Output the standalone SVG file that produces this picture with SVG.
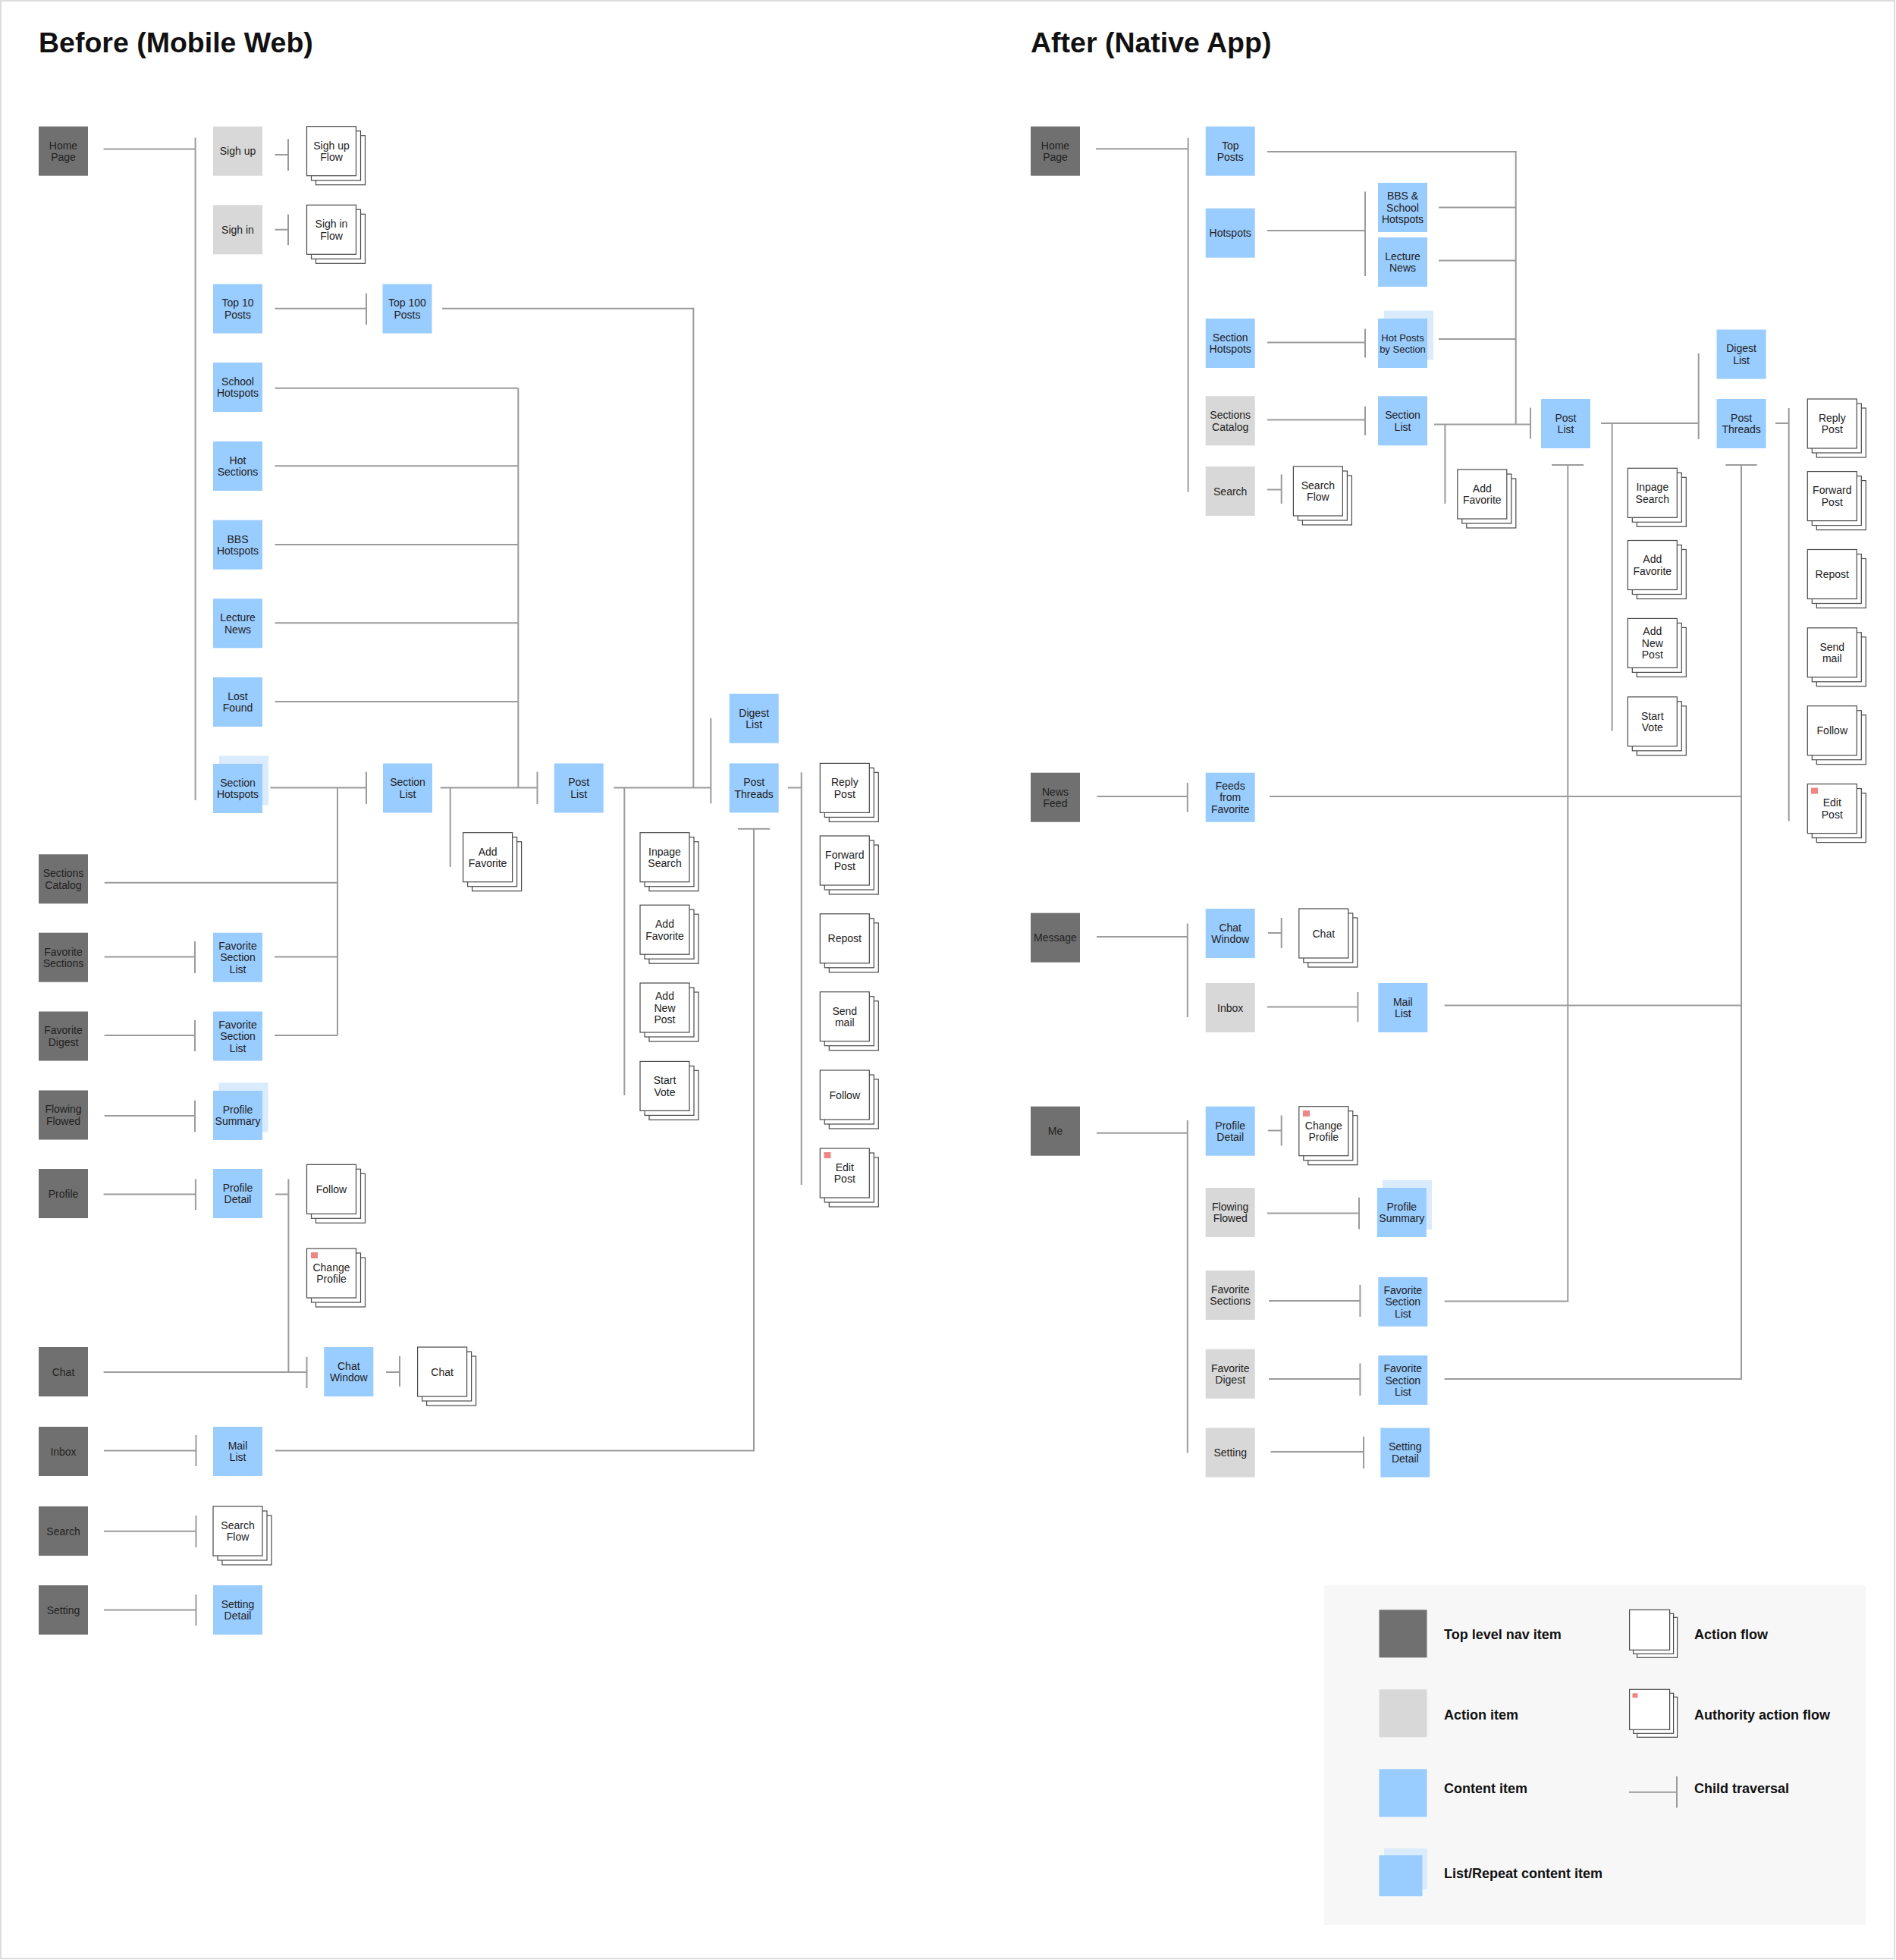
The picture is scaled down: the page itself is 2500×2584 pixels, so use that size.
<svg xmlns="http://www.w3.org/2000/svg" xmlns:xlink="http://www.w3.org/1999/xlink" width="2500" height="2584" viewBox="0 0 2500 2584">
<style>
.nav{fill:#707070}
.act{fill:#d8d8d8}
.con{fill:#99ccff}
.lst{fill:#d9ebfd}
.pg{fill:#fff;stroke:#4a4a4a;stroke-width:1.2}
.t{font-family:"Liberation Sans",Arial,Helvetica,sans-serif;font-size:14px;fill:#222;text-anchor:middle}
.sm{font-size:13px}
.c{fill:none;stroke:#9b9b9b;stroke-width:2}
.title{font-family:"Liberation Sans",Arial,Helvetica,sans-serif;font-size:37.5px;font-weight:bold;fill:#111}
.lg{font-family:"Liberation Sans",Arial,Helvetica,sans-serif;font-size:18px;font-weight:bold;fill:#111}
</style>
<defs>
<g id="stk"><rect class="pg" x="12" y="12" width="65" height="65"/><rect class="pg" x="6" y="6" width="65" height="65"/><rect class="pg" x="0" y="0" width="65" height="65"/></g>
<rect id="au" width="9" height="8" fill="#f08585"/>
<g id="stkS"><rect class="pg" x="10" y="10" width="53" height="53"/><rect class="pg" x="5" y="5" width="53" height="53"/><rect class="pg" x="0" y="0" width="53" height="53"/></g>
</defs>
<rect x="0" y="0" width="2500" height="2584" fill="#fff"/>
<rect x="1" y="1" width="2497" height="2581" fill="none" stroke="#dcdcdc" stroke-width="2"/>
<text class="title" x="51" y="69">Before (Mobile Web)</text>
<text class="title" x="1359" y="69">After (Native App)</text>

<g id="connectors">
<path class="c" d="M136.6 196.5H257.6M257.6 181.7V1055M362.5 204H380M380 183.3V225M362.5 302.7H380M380 282.7V323.3M362.5 406.7H483M483 386.7V428.3M583 406.7H914.3V1038.5M362.5 511.7H683.3M362.5 614.3H683.3M362.5 718H683.3M362.5 821.3H683.3M362.5 925H683.3M683.3 511.7V1038.5M356.5 1038.5H483M483 1017.6V1060M445 1038.5V1365M137.7 1163.7H445M137.7 1261.6H257M257 1241V1283M362 1261.6H445M137.7 1365H257M257 1345V1386M362 1365H445M137.7 1471H257M257 1450.8V1492.3M136.6 1574.5H257.9M257.9 1554.5V1595M363 1574.5H380.4M380.4 1554.5V1809M136.6 1809H404.5M404.5 1789V1830M509 1809H527M527 1788V1828M137 1912.5H258.5M258.5 1892V1933M363 1912.5H994V1092.7M973 1092.7H1015M137 2018.8H258.5M258.5 1998V2040M137 2122.6H258.5M258.5 2102V2143M580.7 1038.5H708.5M708.5 1017.6V1060M593.7 1038.5V1143M809.3 1038.5H937.3M937.3 946.7V1059.3M823.3 1038.5V1444M1039 1038.5H1056.7M1056.7 1018.3V1562"/>
<path class="c" d="M1445 196.2H1566.6M1566.6 181.7V648.6M1671 200H1998.7V559.4M1671 304H1800M1800 252.5V364M1897 273.5H1998.7M1897 343.5H1998.7M1671 451.5H1800M1800 433.5V471.4M1897 446.9H1998.7M1671 553.6H1800M1800 535.7V574M1891 559.4H2018M2018 537.6V578.5M1905.4 559.4V664M1671 645.5H1689.7M1689.7 625.6V664M2111 558H2239.7M2239.7 466V579M2125.6 558V963.7M2046 613H2088M2067.3 613V1715.6H1904.6M2341 558H2358.7M2358.7 538V1082.4M2275.3 613H2316.7M2296 613V1818H1904.6M1446.4 1050H1565.8M1565.8 1032V1070.6M1674 1050H2296M1446 1235H1565.8M1565.8 1217.5V1341M1671.8 1230H1689.7M1689.7 1210V1250M1671 1327.5H1790.4M1790.4 1308V1347.5M1904.6 1325.6H2296M1446 1493.7H1565.8M1565.8 1477V1915.6M1671.8 1490.6H1689.7M1689.7 1470.6V1510.6M1671 1599.4H1792M1792 1578.7V1620.6M1673 1715H1793.4M1793.4 1693.7V1736M1673 1818H1793.4M1793.4 1797.5V1840M1675.5 1914H1798M1798 1894V1936"/>
</g>

<!-- LEFT: top-level nav -->
<g id="l-home"><rect class="nav" x="51" y="166.7" width="65" height="65"/><text class="t" x="83.5"><tspan x="83.5" y="196.5">Home</tspan><tspan x="83.5" y="212">Page</tspan></text></g>
<g id="l-sections-catalog"><rect class="nav" x="51" y="1126.3" width="65" height="65"/><text class="t"><tspan x="83.5" y="1156">Sections</tspan><tspan x="83.5" y="1171.5">Catalog</tspan></text></g>
<g id="l-favorite-sections"><rect class="nav" x="51" y="1229.7" width="65" height="65"/><text class="t"><tspan x="83.5" y="1259.5">Favorite</tspan><tspan x="83.5" y="1275">Sections</tspan></text></g>
<g id="l-favorite-digest"><rect class="nav" x="51" y="1333.5" width="65" height="65"/><text class="t"><tspan x="83.5" y="1363.3">Favorite</tspan><tspan x="83.5" y="1378.8">Digest</tspan></text></g>
<g id="l-flowing-flowed"><rect class="nav" x="51" y="1437.5" width="65" height="65"/><text class="t"><tspan x="83.5" y="1467.3">Flowing</tspan><tspan x="83.5" y="1482.8">Flowed</tspan></text></g>
<g id="l-profile"><rect class="nav" x="51" y="1541" width="65" height="65"/><text class="t" x="83.5" y="1578.5">Profile</text></g>
<g id="l-chat"><rect class="nav" x="51" y="1776" width="65" height="65"/><text class="t" x="83.5" y="1813.5">Chat</text></g>
<g id="l-inbox"><rect class="nav" x="51" y="1881" width="65" height="65"/><text class="t" x="83.5" y="1918.5">Inbox</text></g>
<g id="l-search"><rect class="nav" x="51" y="1986" width="65" height="65"/><text class="t" x="83.5" y="2023.5">Search</text></g>
<g id="l-setting"><rect class="nav" x="51" y="2090" width="65" height="65"/><text class="t" x="83.5" y="2127.5">Setting</text></g>

<!-- LEFT: column 2 -->
<g id="l-sign-up"><rect class="act" x="281" y="166.7" width="65" height="65"/><text class="t" x="313.5" y="204.2">Sigh up</text></g>
<g id="l-sign-in"><rect class="act" x="281" y="270.3" width="65" height="65"/><text class="t" x="313.5" y="307.8">Sigh in</text></g>
<g id="l-top10"><rect class="con" x="281" y="374.5" width="65" height="65"/><text class="t"><tspan x="313.5" y="404.3">Top 10</tspan><tspan x="313.5" y="419.8">Posts</tspan></text></g>
<g id="l-school-hotspots"><rect class="con" x="281" y="478" width="65" height="65"/><text class="t"><tspan x="313.5" y="507.8">School</tspan><tspan x="313.5" y="523.3">Hotspots</tspan></text></g>
<g id="l-hot-sections"><rect class="con" x="281" y="582" width="65" height="65"/><text class="t"><tspan x="313.5" y="611.8">Hot</tspan><tspan x="313.5" y="627.3">Sections</tspan></text></g>
<g id="l-bbs-hotspots"><rect class="con" x="281" y="685.7" width="65" height="65"/><text class="t"><tspan x="313.5" y="715.5">BBS</tspan><tspan x="313.5" y="731">Hotspots</tspan></text></g>
<g id="l-lecture-news"><rect class="con" x="281" y="789.3" width="65" height="65"/><text class="t"><tspan x="313.5" y="819">Lecture</tspan><tspan x="313.5" y="834.5">News</tspan></text></g>
<g id="l-lost-found"><rect class="con" x="281" y="893" width="65" height="65"/><text class="t"><tspan x="313.5" y="922.8">Lost</tspan><tspan x="313.5" y="938.3">Found</tspan></text></g>
<g id="l-section-hotspots"><rect class="lst" x="289" y="996.5" width="65" height="65"/><rect class="con" x="281" y="1007" width="65" height="65"/><text class="t"><tspan x="313.5" y="1036.8">Section</tspan><tspan x="313.5" y="1052.3">Hotspots</tspan></text></g>
<g id="l-fav-section-list-1"><rect class="con" x="281" y="1229.7" width="65" height="65"/><text class="t"><tspan x="313.5" y="1251.7">Favorite</tspan><tspan x="313.5" y="1267.2">Section</tspan><tspan x="313.5" y="1282.7">List</tspan></text></g>
<g id="l-fav-section-list-2"><rect class="con" x="281" y="1333.5" width="65" height="65"/><text class="t"><tspan x="313.5" y="1355.5">Favorite</tspan><tspan x="313.5" y="1371">Section</tspan><tspan x="313.5" y="1386.5">List</tspan></text></g>
<g id="l-profile-summary"><rect class="lst" x="288.5" y="1427.5" width="65" height="65"/><rect class="con" x="281" y="1438" width="65" height="65"/><text class="t"><tspan x="313.5" y="1467.8">Profile</tspan><tspan x="313.5" y="1483.3">Summary</tspan></text></g>
<g id="l-profile-detail"><rect class="con" x="281" y="1541" width="65" height="65"/><text class="t"><tspan x="313.5" y="1570.8">Profile</tspan><tspan x="313.5" y="1586.3">Detail</tspan></text></g>
<g id="l-mail-list"><rect class="con" x="281" y="1881" width="65" height="65"/><text class="t"><tspan x="313.5" y="1910.8">Mail</tspan><tspan x="313.5" y="1926.3">List</tspan></text></g>
<g id="l-search-flow"><use xlink:href="#stk" x="281" y="1986"/><text class="t"><tspan x="313.5" y="2015.8">Search</tspan><tspan x="313.5" y="2031.3">Flow</tspan></text></g>
<g id="l-setting-detail"><rect class="con" x="281" y="2090" width="65" height="65"/><text class="t"><tspan x="313.5" y="2119.8">Setting</tspan><tspan x="313.5" y="2135.3">Detail</tspan></text></g>

<!-- LEFT: further columns -->
<g id="l-sign-up-flow"><use xlink:href="#stk" x="404.5" y="166.7"/><text class="t"><tspan x="437" y="196.5">Sigh up</tspan><tspan x="437" y="212">Flow</tspan></text></g>
<g id="l-sign-in-flow"><use xlink:href="#stk" x="404.5" y="270.3"/><text class="t"><tspan x="437" y="300">Sigh in</tspan><tspan x="437" y="315.5">Flow</tspan></text></g>
<g id="l-top100"><rect class="con" x="504.5" y="374.5" width="65" height="65"/><text class="t"><tspan x="537" y="404.3">Top 100</tspan><tspan x="537" y="419.8">Posts</tspan></text></g>
<g id="l-section-list"><rect class="con" x="505" y="1006.5" width="65" height="65"/><text class="t"><tspan x="537.5" y="1036.3">Section</tspan><tspan x="537.5" y="1051.8">List</tspan></text></g>
<g id="l-add-favorite-1"><use xlink:href="#stk" x="610.6" y="1097.7"/><text class="t"><tspan x="643.1" y="1127.5">Add</tspan><tspan x="643.1" y="1143">Favorite</tspan></text></g>
<g id="l-follow-1"><use xlink:href="#stk" x="404.5" y="1535.3"/><text class="t" x="437" y="1572.8">Follow</text></g>
<g id="l-change-profile"><use xlink:href="#stk" x="404.5" y="1646"/><use xlink:href="#au" x="410" y="1651"/><text class="t"><tspan x="437" y="1675.8">Change</tspan><tspan x="437" y="1691.3">Profile</tspan></text></g>
<g id="l-chat-window"><rect class="con" x="427.3" y="1776" width="65" height="65"/><text class="t"><tspan x="459.8" y="1805.8">Chat</tspan><tspan x="459.8" y="1821.3">Window</tspan></text></g>
<g id="l-chat-flow"><use xlink:href="#stk" x="550.6" y="1776"/><text class="t" x="583.1" y="1813.5">Chat</text></g>
<g id="l-post-list"><rect class="con" x="730.7" y="1006.5" width="65" height="65"/><text class="t"><tspan x="763.2" y="1036.3">Post</tspan><tspan x="763.2" y="1051.8">List</tspan></text></g>
<g id="l-inpage-search"><use xlink:href="#stk" x="844" y="1097.7"/><text class="t"><tspan x="876.5" y="1127.5">Inpage</tspan><tspan x="876.5" y="1143">Search</tspan></text></g>
<g id="l-add-favorite-2"><use xlink:href="#stk" x="844" y="1193.2"/><text class="t"><tspan x="876.5" y="1223">Add</tspan><tspan x="876.5" y="1238.5">Favorite</tspan></text></g>
<g id="l-add-new-post"><use xlink:href="#stk" x="844" y="1296"/><text class="t"><tspan x="876.5" y="1318">Add</tspan><tspan x="876.5" y="1333.5">New</tspan><tspan x="876.5" y="1349">Post</tspan></text></g>
<g id="l-start-vote"><use xlink:href="#stk" x="844" y="1399.4"/><text class="t"><tspan x="876.5" y="1429.2">Start</tspan><tspan x="876.5" y="1444.7">Vote</tspan></text></g>
<g id="l-digest-list"><rect class="con" x="961.7" y="914.7" width="65" height="65"/><text class="t"><tspan x="994.2" y="944.5">Digest</tspan><tspan x="994.2" y="960">List</tspan></text></g>
<g id="l-post-threads"><rect class="con" x="961.7" y="1006.4" width="65" height="65"/><text class="t"><tspan x="994.2" y="1036.2">Post</tspan><tspan x="994.2" y="1051.7">Threads</tspan></text></g>
<g id="l-reply-post"><use xlink:href="#stk" x="1081.3" y="1006.4"/><text class="t"><tspan x="1113.8" y="1036.2">Reply</tspan><tspan x="1113.8" y="1051.7">Post</tspan></text></g>
<g id="l-forward-post"><use xlink:href="#stk" x="1081.3" y="1102"/><text class="t"><tspan x="1113.8" y="1131.8">Forward</tspan><tspan x="1113.8" y="1147.3">Post</tspan></text></g>
<g id="l-repost"><use xlink:href="#stk" x="1081.3" y="1204.8"/><text class="t" x="1113.8" y="1242.3">Repost</text></g>
<g id="l-send-mail"><use xlink:href="#stk" x="1081.3" y="1307.7"/><text class="t"><tspan x="1113.8" y="1337.5">Send</tspan><tspan x="1113.8" y="1353">mail</tspan></text></g>
<g id="l-follow-2"><use xlink:href="#stk" x="1081.3" y="1411"/><text class="t" x="1113.8" y="1448.5">Follow</text></g>
<g id="l-edit-post"><use xlink:href="#stk" x="1081.3" y="1514"/><use xlink:href="#au" x="1086.5" y="1519"/><text class="t"><tspan x="1113.8" y="1543.8">Edit</tspan><tspan x="1113.8" y="1559.3">Post</tspan></text></g>

<!-- RIGHT: top-level nav -->
<g id="r-home"><rect class="nav" x="1359" y="166.7" width="65" height="65"/><text class="t"><tspan x="1391.5" y="196.5">Home</tspan><tspan x="1391.5" y="212">Page</tspan></text></g>
<g id="r-news-feed"><rect class="nav" x="1359" y="1018.7" width="65" height="65"/><text class="t"><tspan x="1391.5" y="1048.5">News</tspan><tspan x="1391.5" y="1064">Feed</tspan></text></g>
<g id="r-message"><rect class="nav" x="1359" y="1203.7" width="65" height="65"/><text class="t" x="1391.5" y="1241.2">Message</text></g>
<g id="r-me"><rect class="nav" x="1359" y="1458.7" width="65" height="65"/><text class="t" x="1391.5" y="1496.2">Me</text></g>

<!-- RIGHT: column 2 -->
<g id="r-top-posts"><rect class="con" x="1589.7" y="166.7" width="65" height="65"/><text class="t"><tspan x="1622.2" y="196.5">Top</tspan><tspan x="1622.2" y="212">Posts</tspan></text></g>
<g id="r-hotspots"><rect class="con" x="1589.7" y="274.7" width="65" height="65"/><text class="t" x="1622.2" y="312.2">Hotspots</text></g>
<g id="r-section-hotspots"><rect class="con" x="1589.7" y="420" width="65" height="65"/><text class="t"><tspan x="1622.2" y="449.8">Section</tspan><tspan x="1622.2" y="465.3">Hotspots</tspan></text></g>
<g id="r-sections-catalog"><rect class="act" x="1589.7" y="522.3" width="65" height="65"/><text class="t"><tspan x="1622.2" y="552">Sections</tspan><tspan x="1622.2" y="567.5">Catalog</tspan></text></g>
<g id="r-search"><rect class="act" x="1589.7" y="615" width="65" height="65"/><text class="t" x="1622.2" y="652.5">Search</text></g>
<g id="r-feeds"><rect class="con" x="1589.7" y="1018.7" width="65" height="65"/><text class="t"><tspan x="1622.2" y="1040.7">Feeds</tspan><tspan x="1622.2" y="1056.2">from</tspan><tspan x="1622.2" y="1071.7">Favorite</tspan></text></g>
<g id="r-chat-window"><rect class="con" x="1589.7" y="1198" width="65" height="65"/><text class="t"><tspan x="1622.2" y="1227.8">Chat</tspan><tspan x="1622.2" y="1243.3">Window</tspan></text></g>
<g id="r-inbox"><rect class="act" x="1589.7" y="1296" width="65" height="65"/><text class="t" x="1622.2" y="1333.5">Inbox</text></g>
<g id="r-profile-detail"><rect class="con" x="1589.7" y="1458.7" width="65" height="65"/><text class="t"><tspan x="1622.2" y="1488.5">Profile</tspan><tspan x="1622.2" y="1504">Detail</tspan></text></g>
<g id="r-flowing-flowed"><rect class="act" x="1589.7" y="1566" width="65" height="65"/><text class="t"><tspan x="1622.2" y="1595.8">Flowing</tspan><tspan x="1622.2" y="1611.3">Flowed</tspan></text></g>
<g id="r-favorite-sections"><rect class="act" x="1589.7" y="1675" width="65" height="65"/><text class="t"><tspan x="1622.2" y="1704.8">Favorite</tspan><tspan x="1622.2" y="1720.3">Sections</tspan></text></g>
<g id="r-favorite-digest"><rect class="act" x="1589.7" y="1778.7" width="65" height="65"/><text class="t"><tspan x="1622.2" y="1808.5">Favorite</tspan><tspan x="1622.2" y="1824">Digest</tspan></text></g>
<g id="r-setting"><rect class="act" x="1589.7" y="1882.5" width="65" height="65"/><text class="t" x="1622.2" y="1920">Setting</text></g>

<!-- RIGHT: column 3 -->
<g id="r-bbs-school"><rect class="con" x="1817" y="241" width="65" height="65"/><text class="t"><tspan x="1849.5" y="263">BBS &amp;</tspan><tspan x="1849.5" y="278.5">School</tspan><tspan x="1849.5" y="294">Hotspots</tspan></text></g>
<g id="r-lecture-news"><rect class="con" x="1817" y="313" width="65" height="65"/><text class="t"><tspan x="1849.5" y="342.8">Lecture</tspan><tspan x="1849.5" y="358.3">News</tspan></text></g>
<g id="r-hot-posts"><rect class="lst" x="1825" y="409.5" width="65" height="65"/><rect class="con" x="1817" y="420" width="65" height="65"/><text class="t sm"><tspan x="1849.5" y="449.8">Hot Posts</tspan><tspan x="1849.5" y="465.3">by Section</tspan></text></g>
<g id="r-section-list"><rect class="con" x="1817" y="522.3" width="65" height="65"/><text class="t"><tspan x="1849.5" y="552">Section</tspan><tspan x="1849.5" y="567.5">List</tspan></text></g>
<g id="r-search-flow"><use xlink:href="#stk" x="1705.4" y="615"/><text class="t"><tspan x="1737.9" y="644.8">Search</tspan><tspan x="1737.9" y="660.3">Flow</tspan></text></g>
<g id="r-add-favorite-1"><use xlink:href="#stk" x="1921.8" y="619"/><text class="t"><tspan x="1954.3" y="648.8">Add</tspan><tspan x="1954.3" y="664.3">Favorite</tspan></text></g>
<g id="r-chat-flow"><use xlink:href="#stk" x="1712.8" y="1198"/><text class="t" x="1745.3" y="1235.5">Chat</text></g>
<g id="r-mail-list"><rect class="con" x="1817.3" y="1296" width="65" height="65"/><text class="t"><tspan x="1849.8" y="1325.8">Mail</tspan><tspan x="1849.8" y="1341.3">List</tspan></text></g>
<g id="r-change-profile"><use xlink:href="#stk" x="1712.8" y="1458.7"/><use xlink:href="#au" x="1718" y="1464"/><text class="t"><tspan x="1745.3" y="1488.5">Change</tspan><tspan x="1745.3" y="1504">Profile</tspan></text></g>
<g id="r-profile-summary"><rect class="lst" x="1823" y="1556" width="65" height="65"/><rect class="con" x="1815.8" y="1566" width="65" height="65"/><text class="t"><tspan x="1848.3" y="1595.8">Profile</tspan><tspan x="1848.3" y="1611.3">Summary</tspan></text></g>
<g id="r-fav-section-list-1"><rect class="con" x="1817.3" y="1683.7" width="65" height="65"/><text class="t"><tspan x="1849.8" y="1705.7">Favorite</tspan><tspan x="1849.8" y="1721.2">Section</tspan><tspan x="1849.8" y="1736.7">List</tspan></text></g>
<g id="r-fav-section-list-2"><rect class="con" x="1817.3" y="1787" width="65" height="65"/><text class="t"><tspan x="1849.8" y="1809">Favorite</tspan><tspan x="1849.8" y="1824.5">Section</tspan><tspan x="1849.8" y="1840">List</tspan></text></g>
<g id="r-setting-detail"><rect class="con" x="1820.3" y="1882.5" width="65" height="65"/><text class="t"><tspan x="1852.8" y="1912.3">Setting</tspan><tspan x="1852.8" y="1927.8">Detail</tspan></text></g>

<!-- RIGHT: post columns -->
<g id="r-post-list"><rect class="con" x="2032" y="526" width="65" height="65"/><text class="t"><tspan x="2064.5" y="555.8">Post</tspan><tspan x="2064.5" y="571.3">List</tspan></text></g>
<g id="r-digest-list"><rect class="con" x="2263.6" y="434.5" width="65" height="65"/><text class="t"><tspan x="2296.1" y="464.3">Digest</tspan><tspan x="2296.1" y="479.8">List</tspan></text></g>
<g id="r-post-threads"><rect class="con" x="2263.6" y="526" width="65" height="65"/><text class="t"><tspan x="2296.1" y="555.8">Post</tspan><tspan x="2296.1" y="571.3">Threads</tspan></text></g>
<g id="r-inpage-search"><use xlink:href="#stk" x="2146.3" y="617.3"/><text class="t"><tspan x="2178.8" y="647.1">Inpage</tspan><tspan x="2178.8" y="662.6">Search</tspan></text></g>
<g id="r-add-favorite-2"><use xlink:href="#stk" x="2146.3" y="712.5"/><text class="t"><tspan x="2178.8" y="742.3">Add</tspan><tspan x="2178.8" y="757.8">Favorite</tspan></text></g>
<g id="r-add-new-post"><use xlink:href="#stk" x="2146.3" y="815.4"/><text class="t"><tspan x="2178.8" y="837.4">Add</tspan><tspan x="2178.8" y="852.9">New</tspan><tspan x="2178.8" y="868.4">Post</tspan></text></g>
<g id="r-start-vote"><use xlink:href="#stk" x="2146.3" y="918.8"/><text class="t"><tspan x="2178.8" y="948.6">Start</tspan><tspan x="2178.8" y="964.1">Vote</tspan></text></g>
<g id="r-reply-post"><use xlink:href="#stk" x="2383.3" y="526"/><text class="t"><tspan x="2415.8" y="555.8">Reply</tspan><tspan x="2415.8" y="571.3">Post</tspan></text></g>
<g id="r-forward-post"><use xlink:href="#stk" x="2383.3" y="621.6"/><text class="t"><tspan x="2415.8" y="651.4">Forward</tspan><tspan x="2415.8" y="666.9">Post</tspan></text></g>
<g id="r-repost"><use xlink:href="#stk" x="2383.3" y="724.5"/><text class="t" x="2415.8" y="762">Repost</text></g>
<g id="r-send-mail"><use xlink:href="#stk" x="2383.3" y="827.8"/><text class="t"><tspan x="2415.8" y="857.6">Send</tspan><tspan x="2415.8" y="873.1">mail</tspan></text></g>
<g id="r-follow"><use xlink:href="#stk" x="2383.3" y="930.7"/><text class="t" x="2415.8" y="968.2">Follow</text></g>
<g id="r-edit-post"><use xlink:href="#stk" x="2383.3" y="1033.6"/><use xlink:href="#au" x="2388" y="1038.6"/><text class="t"><tspan x="2415.8" y="1063.4">Edit</tspan><tspan x="2415.8" y="1078.9">Post</tspan></text></g>

<!-- Legend -->
<g id="legend">
<rect x="1746" y="2090" width="714" height="448" fill="#f7f7f7"/>
<rect class="nav" x="1818.5" y="2122.3" width="63" height="63"/>
<text class="lg" x="1904" y="2161">Top level nav item</text>
<rect class="act" x="1818.5" y="2227.3" width="63" height="63"/>
<text class="lg" x="1904" y="2267">Action item</text>
<rect class="con" x="1818.5" y="2332.3" width="63" height="63"/>
<text class="lg" x="1904" y="2364">Content item</text>
<rect class="lst" x="1825" y="2437" width="57" height="54"/>
<rect class="con" x="1818.5" y="2446" width="57" height="54"/>
<text class="lg" x="1904" y="2476">List/Repeat content item</text>
<use xlink:href="#stkS" x="2148.6" y="2122.3"/>
<text class="lg" x="2234" y="2161">Action flow</text>
<use xlink:href="#stkS" x="2148.6" y="2227.3"/>
<rect x="2152.5" y="2232.3" width="7" height="6" fill="#f08585"/>
<text class="lg" x="2234" y="2267">Authority action flow</text>
<path class="c" d="M2148 2362.7H2211M2211 2341.7V2383.3"/>
<text class="lg" x="2234" y="2364">Child traversal</text>
</g>
</svg>
